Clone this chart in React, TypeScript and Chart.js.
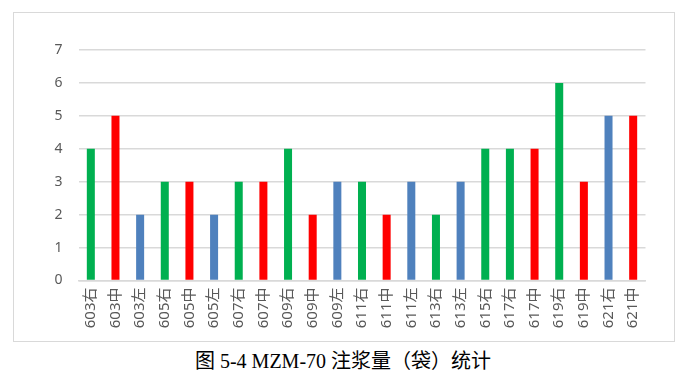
import React, { useEffect, useRef } from "react";
import { Chart, registerables } from "chart.js";

Chart.register(...registerables);

const categories = [
  "603右", "603中", "603左", "605右", "605中", "605左", "607右", "607中",
  "609右", "609中", "609左", "611右", "611中", "611左", "613右", "613左",
  "615右", "617右", "617中", "619右", "619中", "621右", "621中",
];
const values = [4, 5, 2, 3, 3, 2, 3, 3, 4, 2, 3, 3, 2, 3, 2, 3, 4, 4, 4, 6, 3, 5, 5];
// G = green, R = red, B = blue (as coloured in the original)
const barGroups = [
  "G", "R", "B", "G", "R", "B", "G", "R",
  "G", "R", "B", "G", "R", "B", "G", "B",
  "G", "G", "R", "G", "R", "B", "R",
];
const yTicks = [0, 1, 2, 3, 4, 5, 6, 7];
const palette: Record<string, string> = { G: "#00B050", R: "#FF0000", B: "#4F81BD" };
const caption = "图 5-4 MZM-70 注浆量（袋）统计";

export default function App() {
  const ref = useRef<HTMLCanvasElement | null>(null);
  useEffect(() => {
    document.body.style.margin = "0";
    const ctx = ref.current!;
    const chart = new Chart(ctx, {
      type: "bar",
      data: {
        labels: categories,
        datasets: [
          {
            data: values,
            backgroundColor: barGroups.map((g) => palette[g]),
            barPercentage: 0.325,
            categoryPercentage: 1,
          },
        ],
      },
      options: {
        animation: false,
        responsive: false,
        maintainAspectRatio: false,
        layout: { padding: { top: 37, right: 27.5, left: 0, bottom: 0 } },
        plugins: { legend: { display: false }, tooltip: { enabled: false } },
        scales: {
          x: {
            grid: { display: false, drawTicks: false },
            border: { color: "#d9d9d9", width: 1.5 },
            ticks: {
              minRotation: 90,
              maxRotation: 90,
              autoSkip: false,
              padding: 7,
              color: "#595959",
              font: { family: "'Noto Sans', 'Noto Sans CJK SC', sans-serif", size: 15 },
            },
            afterFit: (s: any) => { s.height = 59.5; },
          },
          y: {
            min: 0,
            max: 7,
            afterBuildTicks: (s: any) => { s.ticks = yTicks.map((v) => ({ value: v })); },
            grid: { color: "#d9d9d9", lineWidth: 1.5, drawTicks: false },
            border: { display: false },
            ticks: {
              padding: 16,
              color: "#595959",
              font: { family: "'Noto Sans', sans-serif", size: 14 },
            },
            afterFit: (s: any) => { s.width = 64.5; },
          },
        },
      },
    });
    return () => chart.destroy();
  }, []);

  return (
    <div style={{ position: "relative", width: 686, height: 380, background: "#fff" }}>
      <div
        style={{
          position: "absolute",
          left: 13,
          top: 12,
          width: 662,
          height: 330,
          border: "1.5px solid #d9d9d9",
          boxSizing: "border-box",
        }}
      >
        <canvas ref={ref} width={659} height={327} style={{ display: "block" }} />
      </div>
      <div
        style={{
          position: "absolute",
          left: 0,
          width: 686,
          top: 349,
          textAlign: "center",
          fontFamily: "'Liberation Serif', 'Noto Sans CJK SC', serif",
          fontSize: 20,
          color: "#000",
          lineHeight: "24px",
        }}
      >
        {caption}
      </div>
    </div>
  );
}
